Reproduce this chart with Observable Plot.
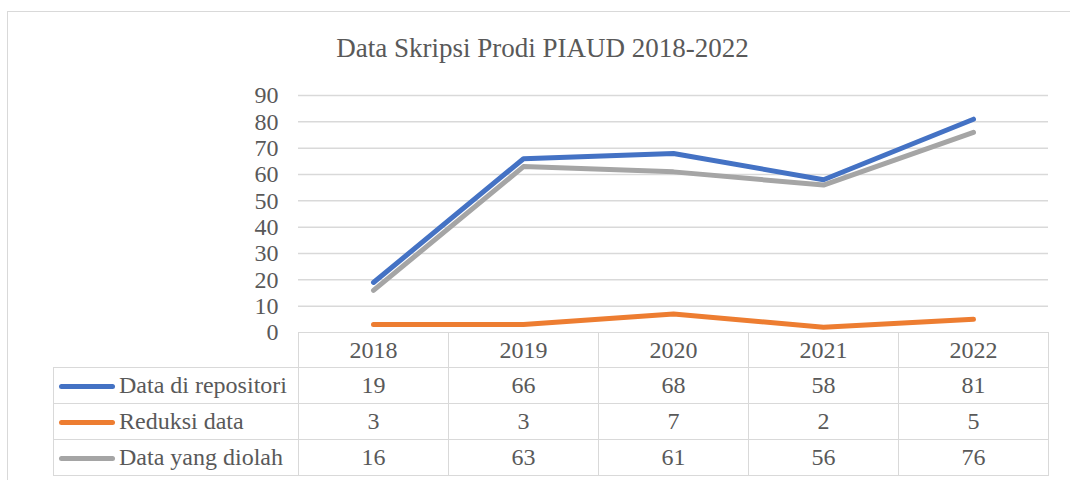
<!DOCTYPE html>
<html>
<head>
<meta charset="utf-8">
<script src="https://cdn.jsdelivr.net/npm/d3@7"></script>
<script src="https://cdn.jsdelivr.net/npm/@observablehq/plot@0.6"></script>
<style>
  html, body { margin: 0; padding: 0; background: #fff; }
  #root { position: relative; width: 1070px; height: 480px; overflow: hidden; font-family: "Liberation Serif", "Times New Roman", serif; color: #595959; }
  #frame { position: absolute; left: 7px; top: 11px; width: 1100px; height: 500px; border: 1.5px solid #d9d9d9; box-sizing: border-box; }
  #title { position: absolute; left: 15px; width: 1055px; top: 33px; line-height: 30px; font-size: 27px; text-align: center; white-space: nowrap; }
  #chart { position: absolute; left: 0; top: 80px; }
  #tbl { position: absolute; left: 53px; top: 332px; border-collapse: collapse; font-size: 24px; table-layout: fixed; }
  #tbl td { border: 1.5px solid #d9d9d9; padding: 0; text-align: center; white-space: nowrap; }
  #tbl tr.head td { height: 34px; }
  #tbl tr.body td { height: 35px; }
  #tbl td.blank { border: none; border-right: 1.5px solid #d9d9d9; }
  #tbl td.name { text-align: left; padding-left: 5px; }
  .key { display: inline-block; width: 56px; height: 5px; border-radius: 3px; vertical-align: middle; margin-right: 4px; position: relative; top: -1px; }
</style>
</head>
<body>
<div id="root">
  <div id="frame"></div>
  <div id="title"></div>
  <div id="chart"></div>
</div>
<script>
const titleText = "Data Skripsi Prodi PIAUD 2018-2022";
const years = ["2018", "2019", "2020", "2021", "2022"];
const repositori = [19, 66, 68, 58, 81];
const reduksi = [3, 3, 7, 2, 5];
const diolah = [16, 63, 61, 56, 76];
const seriesNames = ["Data di repositori", "Reduksi data", "Data yang diolah"];
const seriesColors = ["#4472C4", "#ED7D31", "#A5A5A5"];
const yTicks = [0, 10, 20, 30, 40, 50, 60, 70, 80, 90];

const seriesValues = [repositori, reduksi, diolah];
const rows = [];
seriesNames.forEach((name, s) => {
  years.forEach((yr, i) => rows.push({series: name, year: yr, value: seriesValues[s][i]}));
});

document.getElementById("title").textContent = titleText;

const chart = Plot.plot({
  width: 1070,
  height: 270,
  marginLeft: 298,
  marginRight: 22,
  marginTop: 15,
  marginBottom: 18,
  style: {fontFamily: "'Liberation Serif', 'Times New Roman', serif", fontSize: "24px", color: "#595959", background: "transparent", overflow: "visible"},
  x: {type: "point", domain: years, padding: 0.5, axis: null},
  y: {domain: [0, 90], ticks: yTicks, tickSize: 0, tickPadding: 20, label: null, tickFormat: d => String(d)},
  color: {domain: seriesNames, range: seriesColors},
  marks: [
    Plot.ruleY(yTicks.filter(d => d > 0), {stroke: "#d9d9d9", strokeWidth: 1.5}),
    Plot.line(rows, {x: "year", y: "value", z: "series", stroke: "series", strokeWidth: 5, strokeLinecap: "round", strokeLinejoin: "round"})
  ]
});
document.getElementById("chart").appendChild(chart);

// data table (legend + values)
const root = d3.select("#root");
const table = root.append("table").attr("id", "tbl");
const cg = table.append("colgroup");
cg.append("col").style("width", "245px");
years.forEach(() => cg.append("col").style("width", "150px"));
const head = table.append("tr").attr("class", "head");
head.append("td").attr("class", "blank");
years.forEach(y => head.append("td").text(y));
seriesNames.forEach((name, s) => {
  const tr = table.append("tr").attr("class", "body");
  const nameCell = tr.append("td").attr("class", "name");
  nameCell.append("span").attr("class", "key").style("background", seriesColors[s]);
  nameCell.append("span").text(name);
  seriesValues[s].forEach(v => tr.append("td").text(v));
});
</script>
</body>
</html>
